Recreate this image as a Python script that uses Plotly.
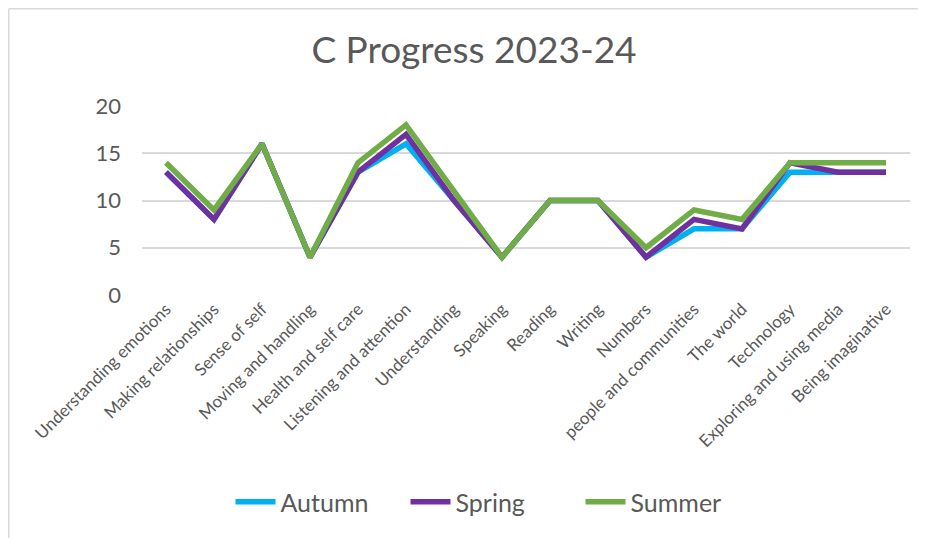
import plotly.graph_objects as go

categories = ["Understanding emotions", "Making relationships", "Sense of self",
              "Moving and handling", "Health and self care", "Listening and attention",
              "Understanding", "Speaking", "Reading", "Writing", "Numbers",
              "people and communities", "The world", "Technology",
              "Exploring and using media", "Being imaginative"]
autumn = [13, 8, 16, 4, 13, 16, 10, 4, 10, 10, 4, 7, 7, 13, 13, 13]
spring = [13, 8, 16, 4, 13, 17, 10, 4, 10, 10, 4, 8, 7, 14, 13, 13]
summer = [14, 9, 16, 4, 14, 18, 11, 4, 10, 10, 5, 9, 8, 14, 14, 14]
series_names = ["Autumn", "Spring", "Summer"]
colors = ["#00B0F0", "#7030A0", "#70AD47"]
y_ticks = [0, 5, 10, 15, 20]

FONT = "Lato"
GREY = "#595959"

# the page has an 8px body offset; figure coordinates below are shifted by it
OFF = 8
W, H = 926, 538
L, R, T, B = 142 - OFF, W - (910 - OFF), 106 - OFF, H - (295 - OFF)

fig = go.Figure()
for name, vals, c in zip(series_names, [autumn, spring, summer], colors):
    fig.add_trace(go.Scatter(
        x=list(range(len(categories))), y=vals, name=name, mode="lines",
        line=dict(color=c, width=5.5, shape="linear"),
    ))

pw = W - L - R
ph = H - T - B


def fx(p):
    """figure pixel x -> paper fraction"""
    return (p - L) / pw


def fy(p):
    """figure pixel y -> paper fraction"""
    return (H - B - p) / ph


fig.update_layout(
    width=W, height=H,
    margin=dict(l=L, r=R, t=T, b=B),
    paper_bgcolor="white", plot_bgcolor="white",
    font=dict(family=FONT, color=GREY),
    title=dict(text="C Progress 2023-24", x=(474 - OFF) / W, xanchor="center",
               y=1 - (50 - OFF) / H, yanchor="middle",
               font=dict(size=37, color=GREY, family=FONT)),
    xaxis=dict(
        tickmode="array", tickvals=list(range(len(categories))), ticktext=categories,
        range=[-0.5, len(categories) - 0.5], tickangle=-45,
        tickfont=dict(size=17, color=GREY, family=FONT),
        showgrid=False, zeroline=False, showline=False, ticks="",
        automargin=False,
    ),
    yaxis=dict(
        range=[0, 20], tickvals=y_ticks, showgrid=True, gridcolor="#D9D9D9", gridwidth=1.5,
        zeroline=False, showline=False, ticks="",
        tickfont=dict(size=22, color=GREY, family=FONT), ticklabelstandoff=20,
        automargin=False,
    ),
    legend=dict(orientation="h", x=fx(493 - OFF), xanchor="center", y=fy(502 - OFF), yanchor="middle",
                font=dict(size=25, color=GREY, family=FONT), itemwidth=40,
                entrywidth=120, entrywidthmode="pixels", tracegroupgap=0),
    showlegend=True,
    shapes=[
        dict(type="line", xref="paper", yref="paper", x0=fx(0.75), x1=fx(W + 20), y0=fy(0.75), y1=fy(0.75),
             line=dict(color="#D9D9D9", width=1.5)),
        dict(type="line", xref="paper", yref="paper", x0=fx(0.75), x1=fx(0.75), y0=fy(0.75), y1=fy(H + 20),
             line=dict(color="#D9D9D9", width=1.5)),
    ],
)

fig.write_html("out.html")
